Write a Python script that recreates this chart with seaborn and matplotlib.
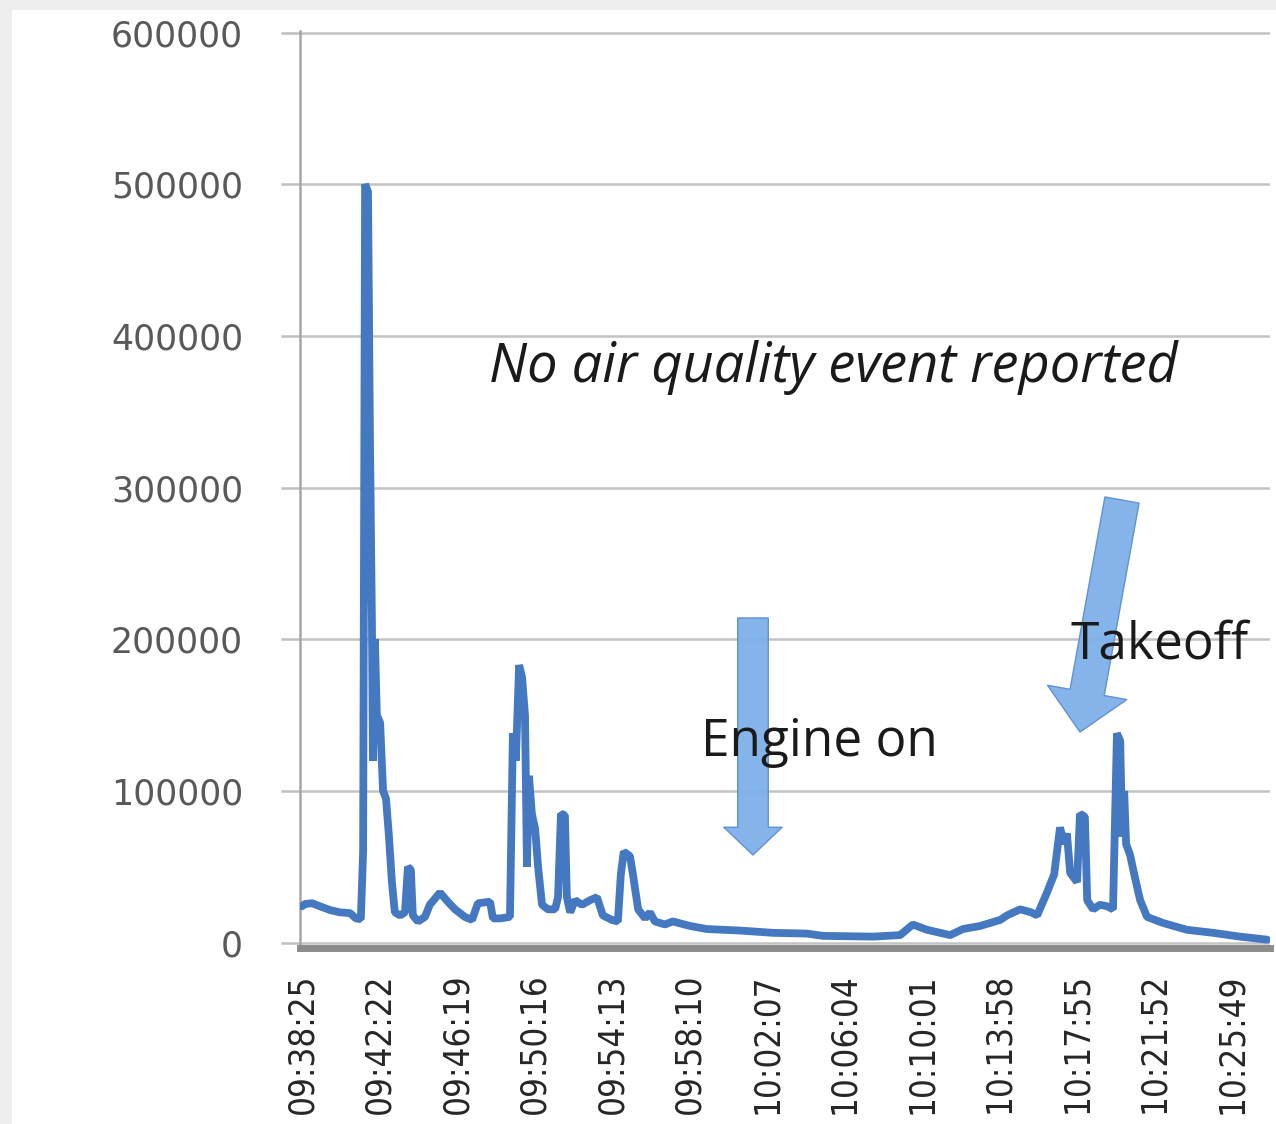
import matplotlib
matplotlib.use("Agg")
import matplotlib.pyplot as plt
import seaborn as sns
from matplotlib.patches import FancyArrowPatch, Rectangle

# seconds after 09:38:25 and the reading at that time
t_sec = [0, 9, 31, 55, 86, 116, 147, 165, 180,
         187, 193, 202, 208, 214, 217, 223, 229, 239, 248, 257, 266, 275, 284,
         300, 315, 324, 333, 339, 355, 376, 391, 422, 446, 468, 498, 520, 538,
         575, 584, 606, 636, 645, 654, 664, 673, 682, 688, 694, 703, 713, 722,
         734, 752, 774, 783, 792, 804, 810, 820, 835, 856, 881, 902, 920, 948,
         966, 975, 984, 1003, 1012, 1028, 1049, 1064, 1079, 1110, 1134, 1187,
         1238, 1339, 1440, 1544, 1593, 1746, 1829, 1868, 1911, 1982, 2021,
         2073, 2104, 2135, 2156, 2196, 2230, 2248, 2278, 2300, 2318, 2330,
         2339, 2349, 2370, 2379, 2394, 2401, 2419, 2440, 2462, 2480, 2486,
         2492, 2502, 2508, 2514, 2520, 2532, 2547, 2563, 2584, 2633, 2706,
         2786, 2868, 2951]
reading = [24000, 25500, 26000, 24000, 21500, 20000, 19500, 16000, 15500,
           60000, 500000, 495000, 330000, 210000, 120000, 200000, 150000,
           145000, 100000, 95000, 70000, 40000, 20000,
           18000, 20000, 50000, 48000, 18000, 14000, 17000, 25000, 33000,
           27000, 22000, 17000, 15000, 26000,
           27000, 16000, 16000, 17000, 138000, 120000, 183000, 175000, 150000,
           50000, 110000, 85000, 75000, 50000,
           25000, 22000, 22000, 30000, 85000, 84000, 30000, 20000, 28000,
           25000, 28000, 30000, 18000, 15000,
           14000, 45000, 60000, 57000, 45000, 22000, 16000, 20000, 14000,
           12000, 14000, 11000,
           9000, 8000, 6500, 6000, 4500, 4000, 5000, 12000, 8500, 5000, 9000,
           11000, 13000, 15000, 18000, 22000, 20000, 18000, 33000, 45000,
           76000, 65000,
           72000, 46000, 40000, 85000, 83000, 28000, 22000, 25000, 24000,
           22000, 80000,
           138000, 133000, 70000, 100000, 65000, 58000, 43000, 28000, 17000,
           13000, 8500,
           6500, 4000, 2000]

tick_labels = ["09:38:25", "09:42:22", "09:46:19", "09:50:16", "09:54:13",
               "09:58:10", "10:02:07", "10:06:04", "10:10:01", "10:13:58",
               "10:17:55", "10:21:52", "10:25:49"]
y_ticks = [0, 100000, 200000, 300000, 400000, 500000, 600000]
y_labels = ["0", "100000", "200000", "300000", "400000", "500000", "600000"]


def to_sec(hms):
    h, m, s = (int(p) for p in hms.split(":"))
    return h * 3600 + m * 60 + s


tick_pos = [to_sec(lab) - to_sec(tick_labels[0]) for lab in tick_labels]

sns.set_style("white")
plt.rcParams["font.family"] = ["DejaVu Sans"]

W, H = 1276, 1124
fig = plt.figure(figsize=(W / 100, H / 100), dpi=100)
fig.patch.set_facecolor("#eeeeee")
fig.add_artist(Rectangle((12 / W, 0), 1, 1 - 10 / H, transform=fig.transFigure,
                         facecolor="white", edgecolor="none", zorder=-5))

ax = fig.add_axes([300 / W, 1 - 948 / H, 970 / W, 917 / H])
ax.set_facecolor("none")

sns.lineplot(x=t_sec, y=reading, ax=ax, color="#4479C1", linewidth=5.6,
             estimator=None, sort=False, zorder=3)
for ln in ax.get_lines():
    ln.set_solid_joinstyle("bevel")

ax.set_xlim(-6, 2960)
ax.set_ylim(-3500, 601000)

ax.set_yticks(y_ticks)
ax.set_yticklabels(y_labels, fontsize=25, color="#595959")
ax.set_xticks(tick_pos)
ax.set_xticklabels(tick_labels, rotation=90, fontsize=25, color="#262626",
                   fontstretch="condensed")
ax.tick_params(axis="y", length=14, width=1.8, color="#bfbfbf", pad=27,
               direction="out", left=True)
ax.tick_params(axis="x", length=0, pad=18)

ax.grid(axis="y", color="#c3c3c3", linewidth=1.8)
ax.grid(axis="x", visible=False)
for side in ("top", "right"):
    ax.spines[side].set_visible(False)
ax.spines["left"].set_color("#a6a6a6")
ax.spines["left"].set_linewidth(1.8)
ax.spines["bottom"].set_color("#8c8c8c")
ax.spines["bottom"].set_linewidth(5)
ax.set_xlabel("")
ax.set_ylabel("")

# block arrows
arrow_kw = dict(transform=ax.transAxes, facecolor="#7DB0E9",
                edgecolor="#5A8FD0", linewidth=1.0, shrinkA=0, shrinkB=0,
                zorder=4, alpha=0.95)
ax.add_patch(FancyArrowPatch((0.4670, 0.3599), (0.4670, 0.1014),
                             arrowstyle="simple,head_length=20,head_width=42,tail_width=22",
                             mutation_scale=1, **arrow_kw))
ax.add_patch(FancyArrowPatch((0.8474, 0.4885), (0.8041, 0.2355),
                             arrowstyle="simple,head_length=29,head_width=58,tail_width=25",
                             mutation_scale=1, **arrow_kw))

ax.text(0.5495, 0.6325, "No air quality event reported", transform=ax.transAxes,
        ha="center", va="center", fontsize=39, style="italic", color="#1a1a1a",
        family=["Open Sans", "DejaVu Sans"], zorder=5)
ax.text(0.536, 0.2246, "Engine on", transform=ax.transAxes, ha="center",
        va="center", fontsize=37, color="#1a1a1a",
        family=["Open Sans", "DejaVu Sans"], zorder=5)
ax.text(0.8866, 0.3304, "Takeoff", transform=ax.transAxes, ha="center",
        va="center", fontsize=37, color="#1a1a1a",
        family=["Open Sans", "DejaVu Sans"], zorder=5)

fig.savefig("out.png", dpi=100)
